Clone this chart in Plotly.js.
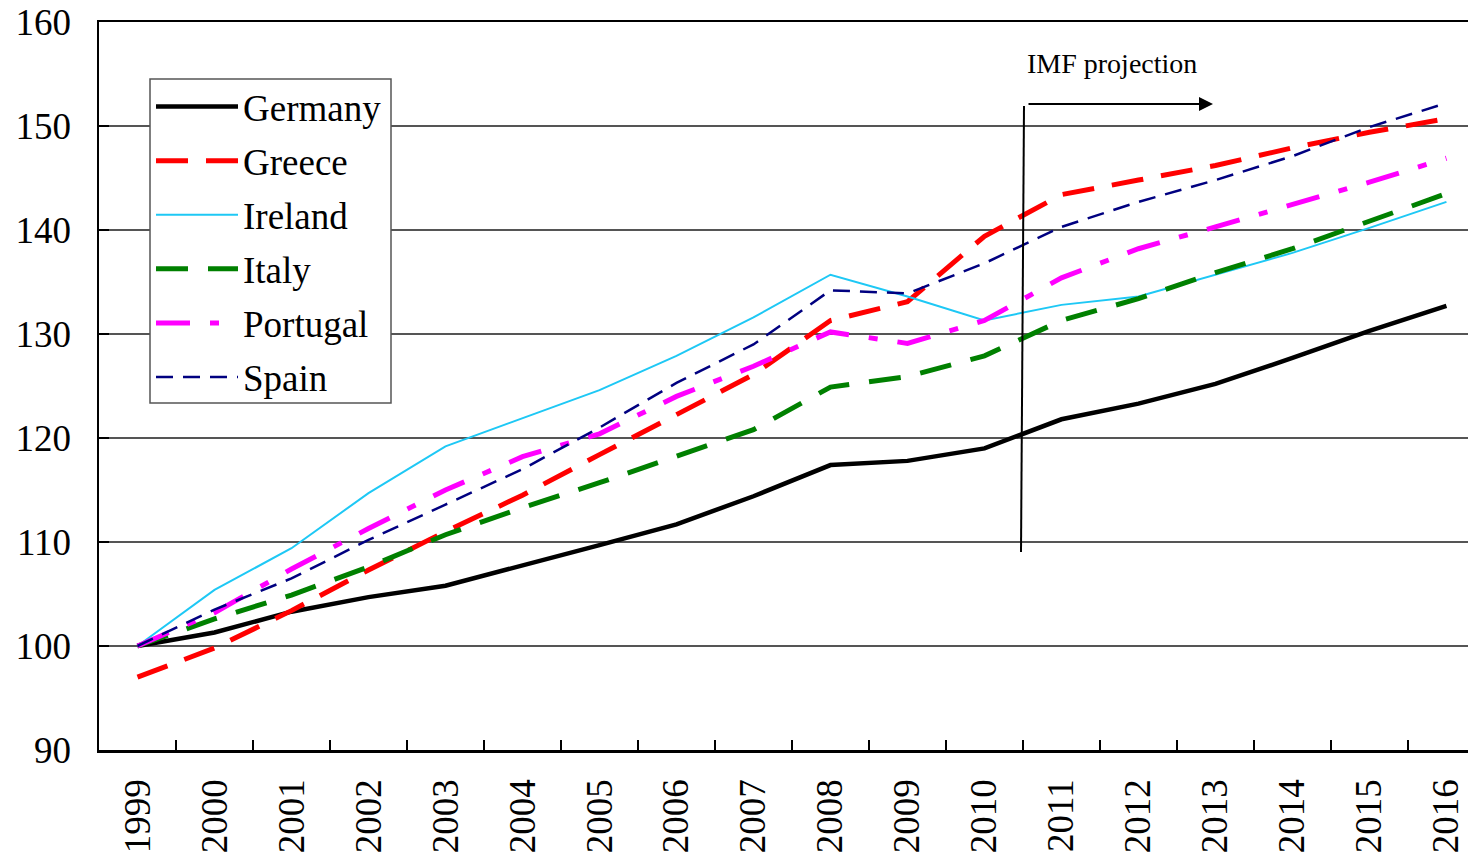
<!DOCTYPE html>
<html>
<head>
<meta charset="utf-8">
<script src="https://cdn.plot.ly/plotly-3.0.1.min.js"></script>
<style>html,body{margin:0;padding:0;background:#fff;overflow:hidden}#chart{width:1468px;height:861px}</style>
</head>
<body>
<div id="chart"></div>
<script>
const years = ["1999","2000","2001","2002","2003","2004","2005","2006","2007","2008","2009","2010","2011","2012","2013","2014","2015","2016"];
const germany  = [100, 101.3, 103.3, 104.7, 105.8, 107.7, 109.7, 111.7, 114.4, 117.4, 117.8, 119.0, 121.8, 123.3, 125.2, 127.7, 130.3, 132.7];
const greece   = [97.0, 99.8, 103.4, 107.3, 111.0, 114.5, 118.4, 122.2, 126.1, 131.3, 133.1, 139.4, 143.4, 144.8, 146.2, 147.9, 149.4, 150.7];
const ireland  = [100, 105.4, 109.4, 114.7, 119.2, 121.9, 124.6, 127.9, 131.6, 135.7, 133.6, 131.3, 132.8, 133.6, 135.7, 137.8, 140.2, 142.7];
const italy    = [100, 102.6, 104.9, 107.6, 110.7, 113.3, 115.7, 118.3, 120.8, 124.9, 125.9, 127.9, 131.3, 133.4, 135.9, 138.2, 140.8, 143.5];
const portugal = [100, 103.2, 107.4, 111.3, 115.0, 118.2, 120.4, 124.0, 126.9, 130.2, 129.1, 131.3, 135.4, 138.2, 140.3, 142.4, 144.6, 146.9];
const spain    = [100, 103.5, 106.5, 110.2, 113.6, 117.0, 121.0, 125.3, 129.0, 134.2, 133.9, 136.8, 140.3, 142.7, 144.8, 147.1, 149.9, 152.2];
const seriesNames = ["Germany","Greece","Ireland","Italy","Portugal","Spain"];
const yTicks = [90,100,110,120,130,140,150,160];
const annotationText = "IMF projection";

const FONT = "'Liberation Serif', 'Times New Roman', serif";
const W = 1468, H = 861, ML = 99, MR = 0, MT = 22, MB = 111;
const PW = W - ML - MR, PH = H - MT - MB;
const px = x => (x - ML) / PW;
const py = y => (H - MB - y) / PH;

const styles = [
  {color:"#000000", width:4.5, dash:"solid"},
  {color:"#ff0000", width:5, dash:"32px,18px"},
  {color:"#1ec8f5", width:2, dash:"solid"},
  {color:"#008000", width:5, dash:"32px,20px"},
  {color:"#ff00ff", width:5, dash:"34px,20px,9px,20px"},
  {color:"#000080", width:2.5, dash:"17px,10px"}
];
const values = [germany, greece, ireland, italy, portugal, spain];

const traces = values.map((v, i) => ({
  type: "scatter",
  mode: "lines",
  x: years,
  y: v,
  name: seriesNames[i],
  legendgroup: "g" + i,
  line: {color: styles[i].color, width: styles[i].width, dash: styles[i].dash},
  hoverinfo: "skip"
}));

const layout = {
  width: W, height: H,
  margin: {l: ML, r: MR, t: MT, b: MB, pad: 0},
  paper_bgcolor: "#ffffff",
  plot_bgcolor: "#ffffff",
  font: {family: FONT, color: "#000"},
  showlegend: true,
  legend: {
    x: px(151), y: py(76), xanchor: "left", yanchor: "top",
    bgcolor: "rgba(0,0,0,0)", borderwidth: 0,
    font: {family: FONT, size: 37, color: "#000"},
    itemwidth: 82, tracegroupgap: 3, traceorder: "grouped"
  },
  xaxis: {
    type: "category",
    range: [-0.5, 17.28],
    tickson: "boundaries",
    ticks: "inside", ticklen: 10, tickwidth: 1.2, tickcolor: "#000",
    tickangle: -90,
    tickfont: {family: FONT, size: 37, color: "#000"},
    ticklabelstandoff: 12,
    showgrid: false,
    showline: true, linecolor: "#000", linewidth: 2.5,
    mirror: true,
    zeroline: false,
    fixedrange: true
  },
  yaxis: {
    range: [90, 160],
    tickvals: yTicks,
    ticktext: yTicks.map(String),
    ticks: "inside", ticklen: 10, tickwidth: 1.2, tickcolor: "#000",
    tickfont: {family: FONT, size: 37, color: "#000"},
    ticklabelstandoff: 18,
    showgrid: true, gridcolor: "#555555", gridwidth: 1.3,
    showline: true, linecolor: "#000", linewidth: 2.5,
    zeroline: false,
    fixedrange: true
  },
  shapes: [
    {type: "rect", xref: "paper", yref: "paper", layer: "above",
     x0: px(150), y0: py(79), x1: px(391), y1: py(403),
     fillcolor: "#ffffff", line: {color: "#555555", width: 1.5}},
    {type: "line", xref: "paper", yref: "paper",
     x0: px(1024), y0: py(106), x1: px(1021), y1: py(552),
     line: {color: "#000", width: 2}}
  ],
  annotations: [
    {xref: "paper", yref: "paper", x: px(1025), y: py(63),
     xanchor: "left", yanchor: "middle", showarrow: false,
     text: annotationText, font: {family: FONT, size: 28, color: "#000"}},
    {xref: "paper", yref: "paper", x: px(1213), y: py(104),
     ax: -186, ay: 0, text: "", showarrow: true,
     arrowhead: 2, arrowsize: 1.4, arrowwidth: 2, arrowcolor: "#000"}
  ]
};

Plotly.newPlot("chart", traces, layout, {staticPlot: true, displayModeBar: false});
</script>
</body>
</html>
